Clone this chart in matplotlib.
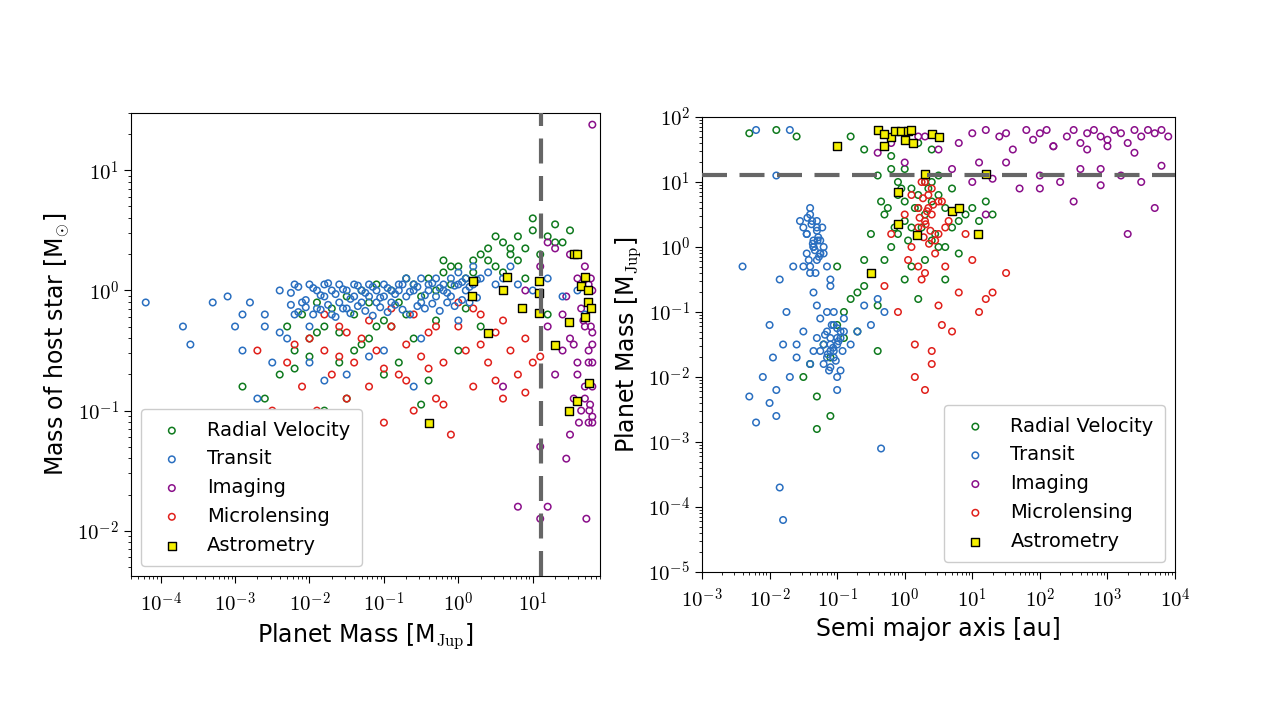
import matplotlib
matplotlib.use("Agg")
import matplotlib.pyplot as plt
from matplotlib.ticker import FuncFormatter, LogLocator
import numpy as np

plt.rcParams['font.family'] = ['DejaVu Sans']
plt.rcParams['mathtext.fontset'] = 'cm'

# ---------- LEFT PANEL: log10(planet mass [MJup]), log10(host mass [Msun]) ----------
L_rv_lm = [-2.9,-2.6,-2.4,-2.3,-2.2,-2.1,-2.0,-1.9,-1.8,-1.7,-1.6,-1.5,-1.4,-1.3,-1.2,-1.1,-1.0,-0.9,-0.8,-0.7,-0.6,-0.5,-0.4,-0.3,-0.2,-0.1,0.0,0.1,0.2,0.3,0.4,0.5,0.6,0.7,0.8,0.9,1.0,1.1,1.2,1.3,1.4,1.5,-1.5,-1.0,-0.5,0.0,0.3,0.6,0.9,1.2,-2.0,-1.2,-0.8,-0.2,0.5,1.0,1.3,1.6,-1.8,-0.4,
           -1.6,-1.3,-0.9,-0.6,-0.3,0.1,0.4,0.7,-2.2,-1.9,-1.4,-1.1,-0.7,-0.1,0.2,0.8]
L_rv_ls = [-0.8,-0.9,-0.7,-0.3,-0.5,-0.2,-0.4,-0.1,-0.3,-0.15,-0.6,-0.05,-0.2,0.0,-0.1,0.05,-0.25,0.0,-0.1,0.1,0.05,-0.05,0.1,0.0,0.15,0.05,0.2,0.1,0.25,0.3,0.35,0.2,0.4,0.3,0.45,0.35,0.5,0.3,0.45,0.55,0.4,0.5,-0.9,-0.7,-0.95,-0.5,-0.3,0.15,0.1,-0.2,-0.55,-0.4,-0.6,0.25,0.45,0.6,0.4,0.3,-1.0,-0.75,
           -0.35,-0.45,-0.3,-0.4,-0.25,-0.15,0.25,0.35,-0.65,-0.35,-0.5,-0.3,-0.2,0.2,0.15,0.25]
L_tr_lm = [-4.2,-3.7,-3.6,-3.1,-3.0,-2.9,-2.8,-2.7,-2.6,-2.5,-2.4,-2.3,-2.2,-2.2,-2.1,-2.0,-2.0,-1.9,-1.9,-1.8,-1.8,-1.7,-1.7,-1.6,-1.6,-1.5,-1.5,-1.4,-1.4,-1.3,-1.3,-1.2,-1.2,-1.1,-1.1,-1.0,-1.0,-0.9,-0.9,-0.8,-0.8,-0.7,-0.7,-0.6,-0.6,-0.5,-0.5,-0.4,-0.4,-0.3,-0.3,-0.2,-0.2,-0.1,-0.1,0.0,0.0,0.1,0.1,0.2,0.2,0.3,0.4,0.5,0.6,0.7,0.8,1.0,1.2,1.4,1.6,1.7,-2.4,-2.0,-1.5,-1.0,-0.5,0.0,-2.6,-1.8,-1.2,-0.6,-3.3,-2.9,
           -2.25,-2.15,-2.05,-1.95,-1.85,-1.75,-1.65,-1.55,-1.45,-1.35,-1.25,-1.15,-1.05,-0.95,-0.85,-0.75,-0.65,-0.55,-0.45,-0.35,-0.25,-0.15,-0.05,0.05,0.15,0.25,
           -2.25,-2.15,-2.05,-1.95,-1.85,-1.75,-1.65,-1.55,-1.45,-1.35,-1.25,-1.15,-1.05,-0.95,-0.85,-0.75,-0.65,-0.55,-0.45,-0.35,-0.25,-0.15,-0.05,0.05,0.15,0.25]
L_tr_ls = [-0.1,-0.3,-0.45,-0.05,-0.3,-0.5,-0.1,-0.9,-0.3,-0.6,0.0,-0.4,0.05,-0.2,-0.1,0.05,-0.3,0.0,-0.15,0.05,-0.05,0.0,-0.2,0.05,-0.1,0.0,-0.15,0.05,-0.05,0.0,-0.1,0.05,-0.05,0.0,-0.1,0.05,-0.05,0.0,-0.1,0.05,0.0,-0.05,0.1,0.0,0.05,-0.1,0.1,0.0,0.05,-0.05,0.1,0.0,0.05,-0.05,0.1,0.05,0.15,0.1,0.0,0.2,0.05,0.1,0.15,0.05,0.1,0.2,0.05,0.0,0.1,-0.05,0.0,-0.2,-0.35,-0.6,-0.7,-0.5,-0.4,-0.25,-0.2,-0.75,-0.55,-0.8,-0.1,-0.2,
           -0.02,0.03,-0.08,0.02,-0.04,0.06,-0.03,0.01,-0.07,0.04,-0.02,0.03,-0.06,0.02,-0.03,0.05,-0.01,0.03,-0.04,0.06,0.02,-0.02,0.04,0.07,0.03,0.09,
           -0.12,-0.18,-0.14,-0.2,-0.16,-0.12,-0.22,-0.15,-0.19,-0.13,-0.17,-0.21,-0.14,-0.18,-0.12,-0.16,-0.2,-0.13,-0.15,-0.11,-0.17,-0.1,-0.13,-0.08,-0.1,-0.06]
L_im_lm = [0.6,0.9,1.1,1.1,1.2,1.3,1.4,1.45,1.5,1.55,1.6,1.6,1.65,1.7,1.7,1.75,1.75,1.8,1.8,1.8,1.4,1.5,1.6,1.7,1.75,1.8,1.3,1.55,1.65,1.75,1.5,1.7,1.78,1.2,1.62,1.72,1.8,1.45,1.68,1.76,0.8,1.1,1.2,1.8,1.78,1.8,1.79,1.8,1.77]
L_im_ls = [-0.8,0.0,0.2,-1.3,0.4,-0.7,-0.5,-1.4,0.3,-0.9,-0.6,0.1,-1.0,-0.3,0.2,-1.1,-0.5,0.0,-0.8,1.38,-0.2,-0.4,-0.7,-0.9,0.05,-1.05,0.35,-0.45,-0.15,-0.6,-1.2,-0.8,0.1,-1.8,-1.1,-1.9,-0.35,-0.05,-0.25,-1.0,-1.8,-1.9,-0.3,-0.6,-0.3,-0.45,-0.15,-1.1,-0.95]
L_ml_lm = [-2.7,-2.5,-2.3,-2.1,-2.0,-1.9,-1.8,-1.7,-1.6,-1.5,-1.4,-1.3,-1.2,-1.1,-1.0,-0.9,-0.8,-0.7,-0.6,-0.5,-0.4,-0.3,-0.2,-0.1,0.0,0.1,0.2,0.3,0.4,0.5,0.6,0.7,0.8,0.9,1.0,1.1,-1.8,-1.5,-1.2,-0.9,-0.6,-0.3,0.0,0.3,-1.4,-1.0,-0.7,-0.2,0.5,0.9,-2.2,-1.6,-0.4,0.2,0.6]
L_ml_ls = [-0.5,-1.0,-0.6,-0.8,-0.4,-1.0,-0.5,-0.7,-0.3,-0.9,-0.6,-0.4,-0.8,-0.5,-1.1,-0.3,-0.7,-0.45,-1.0,-0.55,-0.35,-0.9,-0.6,-1.2,-0.3,-0.5,-0.8,-0.45,-0.6,-0.35,-0.9,-0.5,-0.7,-0.4,-0.6,-0.55,-0.2,-0.35,-0.25,-0.15,-0.2,-0.3,-0.1,-0.2,-1.15,-0.65,-0.75,-0.95,-0.75,-0.85,-0.45,-0.55,-0.65,-0.15,-0.25]
L_as_lm = [-0.4,0.18,0.2,0.4,0.6,0.65,0.85,1.08,1.08,1.08,1.3,1.48,1.55,1.6,1.65,1.7,1.74,1.74,1.78,1.76,1.6,1.48,1.7]
L_as_ls = [-1.1,-0.05,0.08,-0.35,0.0,0.11,-0.15,-0.19,0.08,-0.02,-0.45,-1.0,0.3,0.3,0.04,-0.22,-0.1,0.0,-0.15,-0.77,-0.92,-0.26,0.11]

# ---------- RIGHT PANEL: log10(semi-major axis [au]), log10(planet mass [MJup]) ----------
R_rv_la = [-2.3,-1.9,-1.6,-1.4,-1.3,-1.2,-1.1,-1.0,-0.9,-0.8,-0.7,-0.6,-0.5,-0.4,-0.3,-0.2,-0.1,0.0,0.1,0.2,0.3,0.4,0.5,0.6,0.7,0.8,0.9,1.0,1.1,1.2,-0.5,-0.3,-0.1,0.1,0.3,0.5,0.7,-0.6,-0.2,0.2,0.4,0.6,-1.5,-1.3,-1.1,-0.9,-0.7,-0.4,0.0,0.2,-0.8,-0.6,-0.4,-0.2,0.0,0.4,0.8,-1.0,0.6,1.3,
           -0.25,-0.15,-0.05,0.05,0.15,0.25,0.35,0.45,-0.35,-0.1,0.1,0.3,0.5,0.0,0.2,0.4]
R_rv_lm = [1.75,1.8,1.7,-1.8,-2.3,-1.5,-2.6,-1.2,-1.0,-0.8,-1.3,-0.6,-0.4,-0.9,-0.2,0.0,0.2,0.4,0.3,0.6,0.5,0.7,0.8,0.6,0.9,0.4,0.5,0.6,0.4,0.7,0.2,0.5,0.8,0.9,1.0,1.1,0.3,-0.2,1.2,1.6,1.5,0.0,-2.0,-2.8,-1.7,-1.4,-0.7,-1.6,-0.5,-0.8,1.7,1.5,1.1,1.4,1.2,0.1,-0.1,-0.3,-0.5,0.5,
           0.6,0.3,0.9,0.1,0.6,0.3,0.9,0.2,0.7,1.0,-0.3,-0.2,0.0,0.7,0.8,1.0]
R_tr_la = [-2.3,-2.2,-2.1,-2.0,-1.95,-1.9,-1.85,-1.8,-1.75,-1.7,-1.65,-1.6,-1.55,-1.5,-1.45,-1.4,-1.35,-1.3,-1.25,-1.2,-1.15,-1.1,-1.05,-1.0,-0.95,-0.9,-0.8,-0.7,-0.6,-0.5,-0.4,-0.3,-1.4,-1.35,-1.3,-1.3,-1.25,-1.2,-1.15,-1.1,-1.4,-1.35,-1.3,-1.25,-1.2,-1.15,-1.1,-1.05,-1.0,-0.95,-1.5,-1.45,-1.4,-1.35,-1.3,-1.25,-1.1,-1.05,-1.0,-0.9,-1.85,-1.8,-1.9,-1.6,-0.35,-1.5,-2.2,-1.7,-2.4,-2.0,-1.9,
           -1.45,-1.42,-1.38,-1.35,-1.32,-1.28,-1.25,-1.22,-1.4,-1.36,-1.3,-1.27,-1.44,-1.33,-1.29,-1.37,
           -1.2,-1.15,-1.1,-1.05,-1.0,-0.95,-1.12,-1.08,-1.02,-0.98,-1.18,-1.06,-1.14,-1.0,-1.1,-0.92]
R_tr_lm = [-2.3,-2.7,-2.0,-2.4,-1.7,-2.2,-0.5,-1.5,-1.0,-2.0,-0.3,-1.7,0.4,-1.3,0.2,0.5,0.1,0.3,-0.1,0.0,-1.0,-1.6,-1.2,-1.4,-1.9,-1.1,-1.5,-1.3,-0.9,-1.2,-0.8,-1.0,0.6,0.0,-0.2,0.4,0.1,-0.1,-0.3,-0.6,-1.8,-1.6,-1.4,-1.6,-1.8,-1.3,-1.5,-1.7,-2.0,-1.4,0.3,-0.1,-0.4,-0.7,-0.9,-1.1,-0.5,-1.0,-2.2,-1.3,-3.7,-4.2,-2.6,-1.5,-3.1,-0.3,1.8,1.8,-0.3,-1.2,1.1,
           0.2,-0.2,0.35,0.0,-0.4,0.15,-0.1,0.3,-0.3,0.05,0.25,-0.15,0.45,-0.05,0.1,0.4,
           -1.5,-1.7,-1.4,-1.6,-1.5,-1.3,-1.9,-1.2,-1.75,-1.45,-1.35,-1.55,-1.65,-1.25,-1.85,-1.6]
R_im_la = [-0.4,-0.2,0.0,0.3,0.5,0.8,1.0,1.2,1.4,1.5,1.6,1.8,1.9,2.0,2.1,2.2,2.4,2.5,2.6,2.7,2.8,2.9,3.0,3.1,3.2,3.3,3.4,3.5,3.6,3.7,3.8,3.9,1.0,1.3,1.7,2.0,2.3,2.6,2.9,3.2,3.5,3.8,0.7,1.1,1.5,2.2,2.7,3.0,3.4,3.7,2.5,3.3,1.2,0.2,2.0,2.9]
R_im_lm = [1.45,1.6,1.3,1.7,1.5,1.6,1.75,1.8,1.7,1.75,1.5,1.8,1.65,1.75,1.8,1.55,1.7,1.8,1.6,1.75,1.8,1.7,1.65,1.8,1.75,1.6,1.8,1.7,1.8,1.75,1.8,1.7,1.0,1.05,0.9,1.1,1.0,1.2,0.95,1.1,1.0,1.25,1.2,1.3,1.3,1.55,1.5,1.55,1.45,0.6,0.7,0.2,0.5,1.7,0.9,1.2]
R_ml_la = [-0.3,-0.2,-0.1,0.0,0.05,0.1,0.15,0.2,0.25,0.3,0.35,0.4,0.45,0.5,0.55,0.6,0.65,0.7,0.8,0.9,1.0,1.1,1.2,1.3,1.5,0.2,0.3,0.4,0.5,0.3,0.4,0.1,0.2,0.5,0.6,0.35,0.25,0.45,0.15,0.55,0.3,0.4,
           0.22,0.28,0.33,0.38,0.42,0.27,0.36,0.31]
R_ml_lm = [-0.6,0.2,-1.0,0.5,-0.2,0.8,-1.5,0.3,1.0,-0.4,0.6,-1.8,0.1,-0.9,0.7,-0.3,0.4,-1.3,-0.7,0.2,-0.2,-1.0,-0.8,-0.7,-0.4,0.6,0.4,0.9,0.2,1.0,0.5,0.0,-0.3,0.7,0.3,0.8,-0.5,-0.1,-2.0,-1.2,-2.2,-1.6,
           0.45,0.15,0.55,0.25,0.65,0.75,0.05,0.35]
R_as_la = [-1.0,-0.5,-0.4,-0.3,-0.2,-0.15,-0.1,-0.05,0.0,0.05,0.1,0.18,0.3,0.4,0.5,0.7,0.8,1.08,1.2,-0.1,0.12,-0.3]
R_as_lm = [1.55,-0.4,1.8,1.55,1.7,1.78,0.35,1.78,1.65,1.78,1.8,0.18,1.12,1.74,1.7,0.55,0.6,0.2,1.12,0.85,1.6,1.74]

def p(v):
    return 10.0 ** np.asarray(v)

C_RV, C_TR, C_IM, C_ML = '#0f7a1e', '#2a6fc0', '#8a0f8a', '#e0201b'
ms = 22

fig = plt.figure(figsize=(12.77, 7.10), dpi=100)
ax1 = fig.add_axes([131/1277, 1-576/710, 469/1277, 463/710])
ax2 = fig.add_axes([702/1277, 1-572/710, 473/1277, 455/710])

fmt = FuncFormatter(lambda v, pos: r'$10^{%d}$' % int(round(np.log10(v))))

def draw(ax, rvx, rvy, trx, try_, imx, imy, mlx, mly, asx, asy, loc):
    ax.scatter(p(rvx), p(rvy), s=ms, facecolors='none', edgecolors=C_RV, lw=1.1, label='Radial Velocity', zorder=3)
    ax.scatter(p(trx), p(try_), s=ms, facecolors='none', edgecolors=C_TR, lw=1.1, label='Transit', zorder=4)
    ax.scatter(p(imx), p(imy), s=ms, facecolors='none', edgecolors=C_IM, lw=1.1, label='Imaging', zorder=3)
    ax.scatter(p(mlx), p(mly), s=ms, facecolors='none', edgecolors=C_ML, lw=1.1, label='Microlensing', zorder=3)
    ax.scatter(p(asx), p(asy), s=30, marker='s', facecolors='#f5f000', edgecolors='black', lw=1.0, label='Astrometry', zorder=5)
    ax.set_xscale('log'); ax.set_yscale('log')
    for a in (ax.xaxis, ax.yaxis):
        a.set_major_locator(LogLocator(base=10, numticks=20))
        a.set_major_formatter(fmt)
    ax.tick_params(which='both', direction='out', labelsize=15)
    ax.tick_params(which='major', length=5)
    ax.tick_params(which='minor', length=2.5)
    ax.tick_params(axis='x', pad=6)
    ax.legend(loc=loc, fontsize=14, framealpha=1,
              handletextpad=0.8, labelspacing=0.5, borderpad=0.6)

draw(ax1, L_rv_lm, L_rv_ls, L_tr_lm, L_tr_ls, L_im_lm, L_im_ls, L_ml_lm, L_ml_ls, L_as_lm, L_as_ls, 'lower left')
ax1.axvline(13, color='#666666', ls='--', lw=3, dashes=(6, 3), zorder=6)
ax1.set_xlim(4e-5, 80); ax1.set_ylim(4.2e-3, 30)
ax1.set_xlabel(r'Planet Mass [M$_{\rm Jup}$]', fontsize=17)
ax1.set_ylabel(r'Mass of host star [M$_{\odot}$]', fontsize=17)

draw(ax2, R_rv_la, R_rv_lm, R_tr_la, R_tr_lm, R_im_la, R_im_lm, R_ml_la, R_ml_lm, R_as_la, R_as_lm, 'lower right')
ax2.axhline(13, color='#666666', ls='--', lw=3, dashes=(6, 3), zorder=6)
ax2.set_xlim(1e-3, 1e4); ax2.set_ylim(1e-5, 1e2)
ax2.set_xlabel('Semi major axis [au]', fontsize=17)
ax2.set_ylabel(r'Planet Mass [M$_{\rm Jup}$]', fontsize=17)

fig.savefig('out.png', dpi=100)
